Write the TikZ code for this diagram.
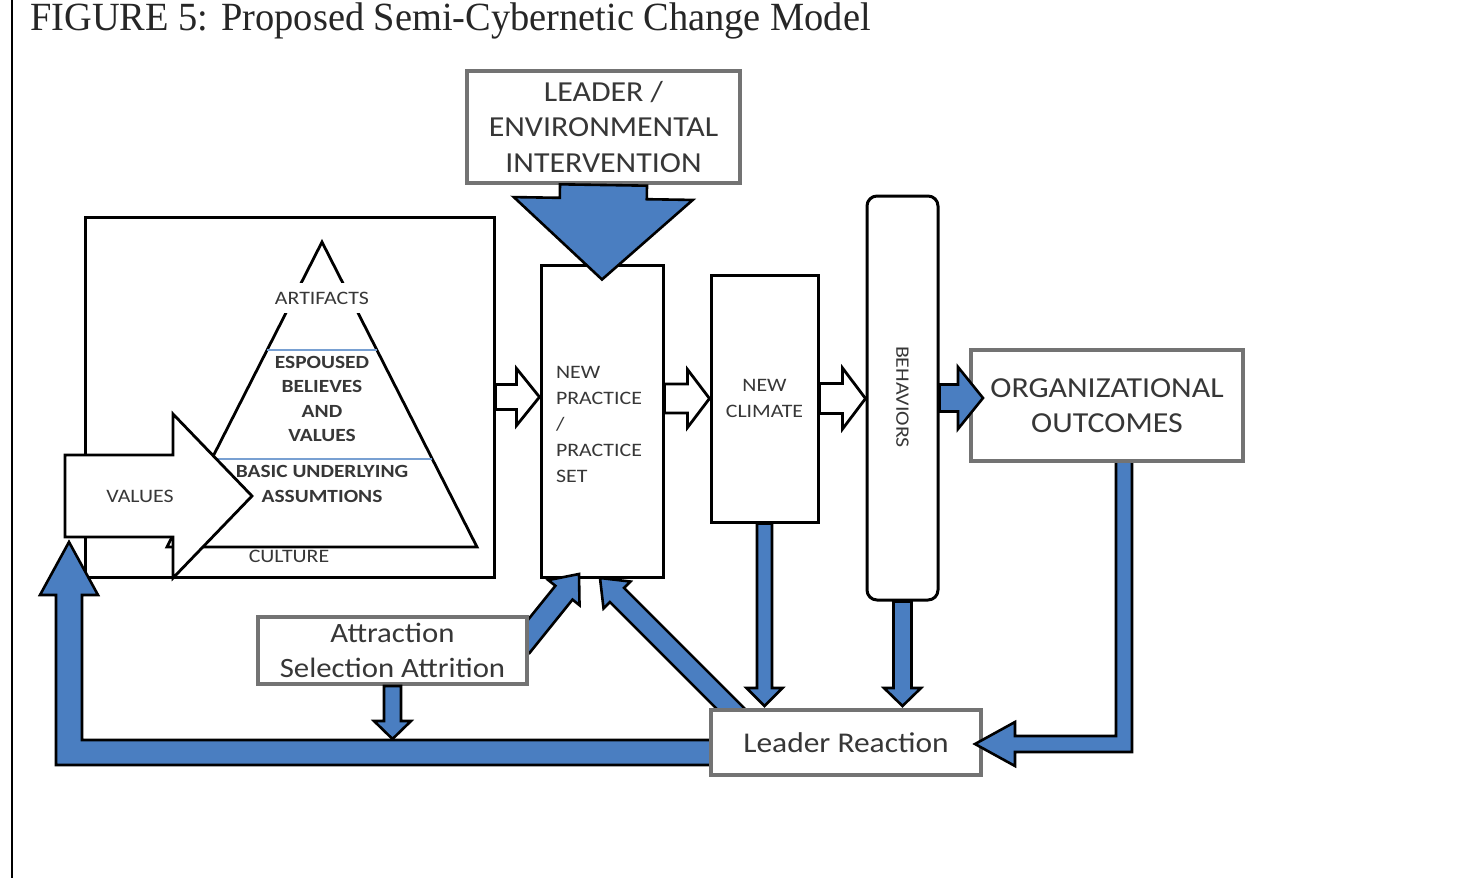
\documentclass[tikz,border=0pt]{standalone}
\usepackage{fontspec}
\setmainfont{Liberation Serif}
\newfontfamily\titlefont{Liberation Serif}[FakeStretch=0.96]
\newfontfamily\calfont{Carlito}[FakeStretch=1.1]
\newfontfamily\calsmall{Carlito}[FakeStretch=1.15]
\usetikzlibrary{calc}
\definecolor{arrowblue}{RGB}{74,126,193}
\definecolor{boxgray}{RGB}{115,115,115}
\definecolor{txt}{RGB}{55,55,55}
\definecolor{pyrline}{RGB}{120,160,210}
\newcommand{\barrow}[6]{%
 \path (#2) coordinate (ba-A);
 \path (#3) coordinate (ba-B);
 \path ($(ba-B)!#6!(ba-A)$) coordinate (ba-H);
 \draw[#1] ($(ba-A)!#4!90:(ba-B)$) -- ($(ba-H)!#4!90:(ba-B)$) -- ($(ba-H)!#5!90:(ba-B)$) -- (ba-B) -- ($(ba-H)!#5!-90:(ba-B)$) -- ($(ba-H)!#4!-90:(ba-B)$) -- ($(ba-A)!#4!-90:(ba-B)$) -- cycle;
}
\tikzset{
 bbox/.style={draw=black, line width=1.5pt, fill=white, inner sep=0pt},
 gbox/.style={draw=boxgray, line width=2pt, fill=white, inner sep=0pt},
 bluearrow/.style={fill=arrowblue, draw=black, line width=1.3pt, line join=miter},
 whitearrow/.style={fill=white, draw=black, line width=1.4pt, line join=miter},
 bigtext/.style={font=\calfont\fontsize{14.5}{17.8}\selectfont, text=txt, align=center},
 smalltext/.style={font=\calsmall\fontsize{9.5}{13}\selectfont, text=txt},
 pyrtext/.style={font=\calsmall\bfseries\fontsize{9.3}{12.3}\selectfont, text=txt, align=center}
}
\begin{document}
\begin{tikzpicture}[x=0.5pt,y=-0.5pt]
\useasboundingbox (0,0) rectangle (1484,878);
\fill[white] (0,0) rectangle (1484,878);
% border and title
\coordinate (bt) at (12,0);
\coordinate (bb) at (12,878);
\draw[line width=1pt] (bt) -- (bb);
\node[anchor=base west, inner sep=0pt, font=\titlefont\fontsize{20}{24}\selectfont, text=black!85] (title) at (30,31) {FIGURE 5: Proposed Semi-Cybernetic Change Model};

% culture box and pyramid
\node[bbox, minimum width=204.5pt, minimum height=180pt] (culture) at (289.5,397) {};
\coordinate (apex) at (322,242);
\coordinate (bR) at (477,547);
\coordinate (bL) at (167,547);
\draw[line width=1.4pt, line join=miter] (apex) -- (bR) -- (bL) -- cycle;
\coordinate (l1a) at (267,350); \coordinate (l1b) at (377,350);
\coordinate (l2a) at (212,459); \coordinate (l2b) at (432,459);
\draw[pyrline, line width=0.8pt] (l1a) -- (l1b);
\draw[pyrline, line width=0.8pt] (l2a) -- (l2b);
\node[smalltext, fill=white, inner sep=1pt, minimum height=15pt] (art) at (322,298) {ARTIFACTS};
\node[pyrtext] (esp) at (322,399) {ESPOUSED\\BELIEVES\\AND\\VALUES};
\node[smalltext] (cul) at (289,556) {CULTURE};

% values arrow
\coordinate (valA) at (65,496);
\coordinate (valB) at (252,496);
\barrow{whitearrow}{valA}{valB}{20.5pt}{41pt}{39.5pt}
\node[smalltext] (val) at (140,496) {VALUES};
\node[pyrtext] (bua) at (322,484) {BASIC UNDERLYING\\ASSUMTIONS};

% new practice
\node[bbox, minimum width=61pt, minimum height=156pt] (np) at (602,421) {};
\node[smalltext, align=left, anchor=west] (nptext) at (549,424) {NEW\\PRACTICE\\/\\PRACTICE\\SET};
% new climate
\node[bbox, minimum width=53.5pt, minimum height=123.5pt, smalltext, align=center] (nc) at (764.5,398.5) {NEW\\CLIMATE};
% behaviors
\node[bbox, rounded corners=5pt, minimum width=35.5pt, minimum height=202pt] (beh) at (902.5,398) {};
\node[smalltext, rotate=-90] (behtext) at (902.5,397) {BEHAVIORS};

% leader / environmental intervention
\node[gbox, minimum width=136.5pt, minimum height=56pt, bigtext] (lei) at (603.5,127) {LEADER /\\ENVIRONMENTAL\\INTERVENTION};
\barrow{bluearrow}{lei.south}{$(np.north)+(0,16)$}{21.75pt}{44.75pt}{40.5pt}

% white arrows
\barrow{whitearrow}{culture.east}{np.west |- culture.east}{6.25pt}{14.25pt}{11.5pt}
\barrow{whitearrow}{np.east |- nc.west}{nc.west}{7.25pt}{14.5pt}{11pt}
\barrow{whitearrow}{nc.east}{beh.west |- nc.east}{7.5pt}{15.25pt}{11.5pt}

% big feedback loop
\coordinate (p1) at (716,740);
\coordinate (p2) at (82,740);
\coordinate (p3) at (82,595);
\coordinate (p4) at (98,595);
\coordinate (p5) at (69,542);
\coordinate (p6) at (40,595);
\coordinate (p7) at (56,595);
\coordinate (p8) at (56,765);
\coordinate (p9) at (716,765);
\draw[bluearrow] (p1) -- (p2) -- (p3) -- (p4) -- (p5) -- (p6) -- (p7) -- (p8) -- (p9) -- cycle;

% diagonal arrows into new practice
\coordinate (lrd) at (738,716);
\coordinate (npd) at (600,578);
\barrow{bluearrow}{lrd}{npd}{5pt}{9.5pt}{12pt}
\coordinate (asad) at (521,646);
\coordinate (npa) at (579,574);
\barrow{bluearrow}{asad}{npa}{5.5pt}{10pt}{12pt}

% ASA box
\node[gbox, minimum width=134.5pt, minimum height=33.5pt, bigtext, font=\calfont\fontsize{14}{17.5}\selectfont] (asa) at (392.5,650.5) {Attraction\\Selection Attrition};
\barrow{bluearrow}{asa.south}{$(asa.south)+(0,53)$}{4.25pt}{9.25pt}{9pt}

% leader reaction
\node[gbox, minimum width=135pt, minimum height=32.5pt, bigtext, font=\calfont\fontsize{14.3}{17}\selectfont] (lr) at (846,742.5) {Leader Reaction};
\barrow{bluearrow}{nc.south}{$(nc.south |- lr.north)+(0,-2)$}{3.75pt}{9pt}{9pt}
\barrow{bluearrow}{beh.south}{$(beh.south |- lr.north)+(0,-2)$}{4.5pt}{9.25pt}{9pt}

% organizational outcomes
\coordinate (q1) at (1116,458);
\coordinate (q2) at (1116,736);
\coordinate (q3) at (1015,736);
\coordinate (q4) at (1015,722);
\coordinate (q5) at (975,744);
\coordinate (q6) at (1015,766);
\coordinate (q7) at (1015,752);
\coordinate (q8) at (1132,752);
\coordinate (q9) at (1132,458);
\draw[bluearrow] (q1) -- (q2) -- (q3) -- (q4) -- (q5) -- (q6) -- (q7) -- (q8) -- (q9) -- cycle;
\node[gbox, minimum width=136pt, minimum height=55.5pt, bigtext] (org) at (1107,405.5) {ORGANIZATIONAL\\OUTCOMES};
\barrow{bluearrow}{beh.east}{$(beh.east -| org.west)+(14,0)$}{6.75pt}{15.5pt}{12.5pt}
\end{tikzpicture}
\end{document}
